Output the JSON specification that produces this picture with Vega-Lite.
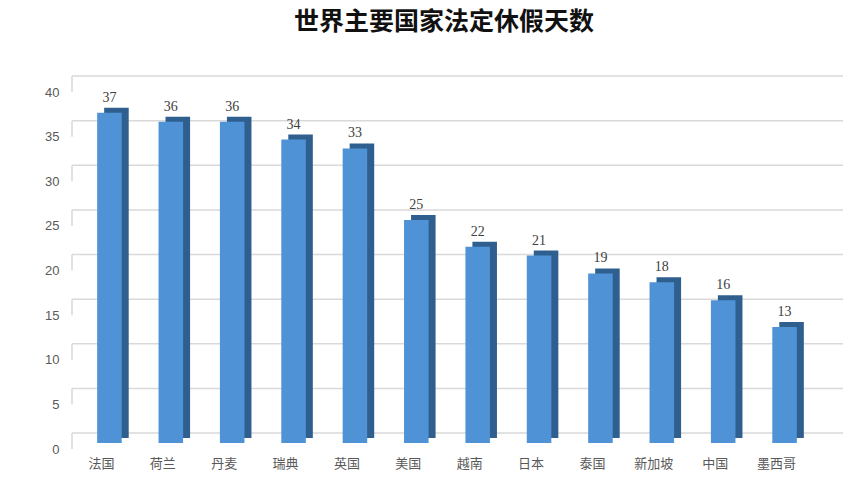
{
  "$schema": "https://vega.github.io/schema/vega-lite/v6.json",
  "title": {
    "text": "世界主要国家法定休假天数",
    "font": "Noto Sans CJK SC",
    "fontSize": 25,
    "fontWeight": "bold",
    "color": "#111111",
    "anchor": "middle",
    "frame": "group",
    "offset": 40,
    "dx": -3
  },
  "background": "#ffffff",
  "autosize": "none",
  "padding": {"left": 72, "top": 86, "right": 44, "bottom": 51},
  "width": 750,
  "height": 357,
  "view": {"stroke": null},
  "datasets": {
    "days": [
      {"country": "法国", "days": 37},
      {"country": "荷兰", "days": 36},
      {"country": "丹麦", "days": 36},
      {"country": "瑞典", "days": 34},
      {"country": "英国", "days": 33},
      {"country": "美国", "days": 25},
      {"country": "越南", "days": 22},
      {"country": "日本", "days": 21},
      {"country": "泰国", "days": 19},
      {"country": "新加坡", "days": 18},
      {"country": "中国", "days": 16},
      {"country": "墨西哥", "days": 13}
    ],
    "ticks": [
      {"v": 0}, {"v": 5}, {"v": 10}, {"v": 15}, {"v": 20},
      {"v": 25}, {"v": 30}, {"v": 35}, {"v": 40}
    ]
  },
  "layer": [
    {
      "data": {"name": "ticks"},
      "mark": {"type": "rule", "color": "#d9d9d9", "strokeWidth": 1.5, "xOffset": 21, "x2Offset": 8, "yOffset": -10},
      "encoding": {
        "y": {
          "field": "v",
          "type": "quantitative",
          "scale": {"domain": [0, 40], "nice": false},
          "axis": {
            "values": [0, 5, 10, 15, 20, 25, 30, 35, 40],
            "title": null,
            "domain": false,
            "ticks": false,
            "grid": false,
            "labelPadding": 13,
            "labelOffset": 6,
            "labelFont": "Liberation Sans",
            "labelFontSize": 13,
            "labelColor": "#595959"
          }
        }
      }
    },
    {
      "data": {"name": "ticks"},
      "mark": {"type": "rule", "color": "#d9d9d9", "strokeWidth": 1.5, "x": 0, "x2": 22, "yOffset": 6, "y2Offset": -10},
      "encoding": {
        "y": {"field": "v", "type": "quantitative"},
        "y2": {"field": "v"}
      }
    },
    {
      "data": {"name": "days"},
      "encoding": {
        "x": {
          "field": "country",
          "type": "nominal",
          "sort": null,
          "scale": {"paddingInner": 0.6, "paddingOuter": 0.41},
          "axis": {
            "title": null,
            "domain": false,
            "ticks": false,
            "labelAngle": 0,
            "labelOffset": -8,
            "labelPadding": 14,
            "labelFont": "Noto Sans CJK SC",
            "labelFontSize": 13,
            "labelColor": "#595959"
          }
        },
        "y": {"field": "days", "type": "quantitative"}
      },
      "layer": [
        {
          "mark": {"type": "bar", "color": "#2f5f8f", "xOffset": 7, "x2Offset": 7, "yOffset": -5, "y2Offset": -5}
        },
        {
          "mark": {"type": "bar", "color": "#4f93d6"}
        },
        {
          "mark": {"type": "text", "baseline": "bottom", "dy": -8, "dx": 0, "font": "Liberation Serif", "fontSize": 14, "color": "#404040"},
          "encoding": {"text": {"field": "days", "type": "quantitative"}}
        }
      ]
    }
  ]
}
